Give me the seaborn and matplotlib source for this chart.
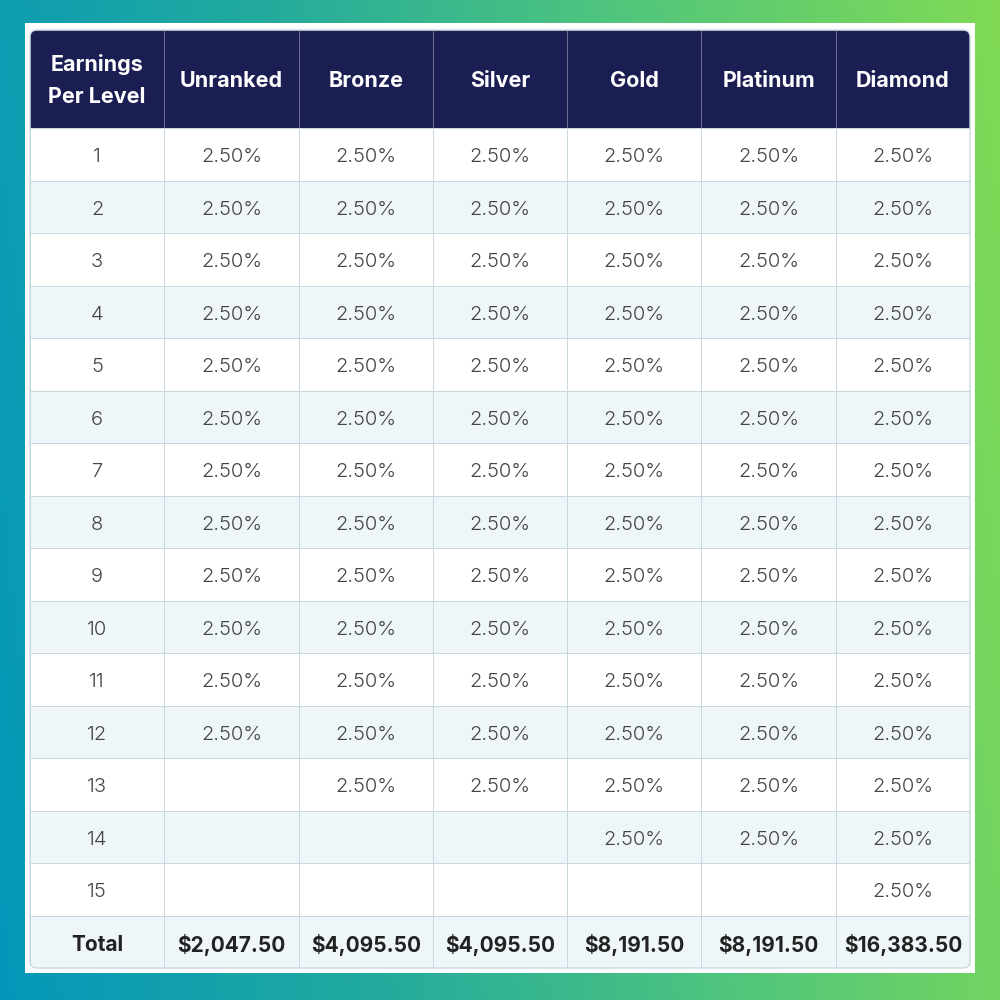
import matplotlib
matplotlib.use("Agg")
import matplotlib.pyplot as plt
import seaborn as sns
import numpy as np
from matplotlib.colors import ListedColormap, LinearSegmentedColormap
from matplotlib.patches import FancyBboxPatch, Rectangle

# table content
tiers = ["Unranked", "Bronze", "Silver", "Gold", "Platinum", "Diamond"]
first_header = "Earnings\nPer Level"
levels = ["1", "2", "3", "4", "5", "6", "7", "8", "9", "10", "11", "12", "13", "14", "15"]
levels_per_tier = [12, 13, 13, 14, 14, 15]
rate = "2.50%"
totals = ["$2,047.50", "$4,095.50", "$4,095.50", "$8,191.50", "$8,191.50", "$16,383.50"]

sns.set_style("white")
plt.rcParams['font.family'] = ['Inter', 'DejaVu Sans']

# build cell text + stripe pattern
annot = []
for i, lv in enumerate(levels):
    annot.append([lv] + [rate if i < n else "" for n in levels_per_tier])
annot.append(["Total"] + totals)
annot = np.array(annot)
stripe = np.array([[i % 2] * 7 for i in range(len(annot))])

fig = plt.figure(figsize=(10, 10), dpi=100)

# gradient background + white panel
bg = fig.add_axes([0, 0, 1, 1])
xx, yy = np.meshgrid(np.linspace(0, 1, 400), np.linspace(0, 1, 400))
t = (xx + 0.12 * yy) / 1.12
grad = LinearSegmentedColormap.from_list("bg", ["#0597bb", "#22aa9e", "#52c67c", "#80da55"])
bg.imshow(t, cmap=grad, extent=[0, 1, 0, 1], origin="lower", aspect="auto")
bg.add_patch(Rectangle((0.025, 0.027), 0.95, 0.95, facecolor="white", edgecolor="none"))
bg.set_xlim(0, 1)
bg.set_ylim(0, 1)
bg.axis("off")

border = "#c9d7de"

# header
ax_h = fig.add_axes([0.03, 0.872, 0.94, 0.098])
sns.heatmap(np.zeros((1, 7)), ax=ax_h, cmap=ListedColormap(["#1b1e52"]), cbar=False,
            annot=np.array([[first_header] + tiers]), fmt="", vmin=0, vmax=1,
            linewidths=0.6, linecolor="#6a6f92", xticklabels=False, yticklabels=False,
            annot_kws={"color": "white", "fontsize": 15.5, "fontweight": "bold", "linespacing": 1.75})
for txt in ax_h.texts:
    txt.set_color("white")
    txt.set_y(txt.get_position()[1] + 0.02)

# body
ax_b = fig.add_axes([0.03, 0.032, 0.94, 0.840])
sns.heatmap(stripe, ax=ax_b, cmap=ListedColormap(["#ffffff", "#eef6fa"]), cbar=False,
            annot=annot, fmt="", vmin=0, vmax=1, linewidths=0.7, linecolor=border,
            xticklabels=False, yticklabels=False,
            annot_kws={"color": "#444444", "fontsize": 14.5, "fontweight": 300})

ncol = annot.shape[1]
for k, txt in enumerate(ax_b.texts):
    r, c = divmod(k, ncol)
    txt.set_y(txt.get_position()[1] + 0.06)
    if r == len(annot) - 1:
        txt.set_fontweight("bold")
        txt.set_fontsize(15)
        txt.set_color("#222222")

# rounded outline
outline = FancyBboxPatch((0.03, 0.032), 0.94, 0.938, boxstyle="round,pad=0,rounding_size=0.007",
                         transform=fig.transFigure, facecolor="none", edgecolor=border,
                         linewidth=1, zorder=5)
fig.patches.append(outline)
for ax in (ax_h, ax_b):
    for coll in ax.collections:
        coll.set_clip_path(outline)

fig.savefig("out.png", dpi=100)
